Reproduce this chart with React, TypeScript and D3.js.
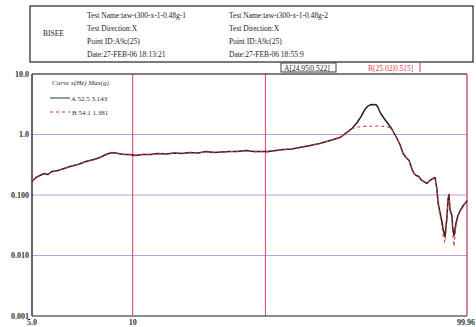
import React from 'react';
import * as d3 from 'd3';

// frequency axis (Hz) and the two response curves (g)
const freqs = [5.0, 5.14, 5.28, 5.43, 5.58, 5.74, 5.98, 6.23, 6.5, 6.86, 7.25, 7.66, 7.98, 8.32, 8.67, 9.04, 9.43, 9.82, 10.2, 10.7, 11.3, 11.9, 12.6, 13.3, 14.1, 14.8, 15.7, 16.6, 17.5, 18.5, 19.5, 20.6, 21.8, 23.0, 24.4, 25.4, 26.8, 28.3, 29.9, 31.6, 33.9, 36.3, 38.9, 41.7, 43.7, 45.3, 46.9, 48.2, 49.5, 50.5, 51.5, 52.5, 53.5, 54.1, 54.9, 56.5, 58.0, 59.7, 61.3, 63.0, 64.4, 65.7, 67.1, 68.5, 69.4, 70.4, 71.8, 72.8, 74.3, 75.8, 77.4, 79.1, 80.2, 81.3, 81.9, 83.0, 84.2, 84.8, 85.9, 87.1, 87.7, 88.3, 88.9, 90.1, 90.7, 91.4, 92.6, 93.9, 95.8, 97.9, 99.2, 99.96];

const ampA = [0.167, 0.195, 0.21, 0.227, 0.218, 0.245, 0.254, 0.274, 0.296, 0.319, 0.358, 0.386, 0.417, 0.467, 0.504, 0.485, 0.467, 0.467, 0.45, 0.467, 0.467, 0.485, 0.476, 0.495, 0.485, 0.504, 0.495, 0.524, 0.504, 0.514, 0.524, 0.524, 0.544, 0.524, 0.524, 0.522, 0.544, 0.565, 0.576, 0.61, 0.658, 0.71, 0.796, 0.892, 1.08, 1.26, 1.58, 1.98, 2.6, 2.95, 3.1, 3.143, 3.1, 2.85, 2.35, 1.84, 1.52, 1.21, 0.927, 0.684, 0.485, 0.417, 0.372, 0.264, 0.227, 0.21, 0.202, 0.18, 0.167, 0.155, 0.174, 0.187, 0.195, 0.123, 0.0752, 0.0514, 0.0351, 0.0269, 0.0206, 0.0441, 0.0843, 0.102, 0.0576, 0.0458, 0.0269, 0.0214, 0.0338, 0.0458, 0.0576, 0.0697, 0.0752, 0.081];

const ampB = [0.172, 0.19, 0.214, 0.222, 0.224, 0.24, 0.258, 0.27, 0.3, 0.322, 0.352, 0.39, 0.42, 0.46, 0.498, 0.49, 0.47, 0.462, 0.455, 0.47, 0.462, 0.48, 0.482, 0.49, 0.49, 0.498, 0.5, 0.515, 0.51, 0.51, 0.52, 0.53, 0.535, 0.52, 0.518, 0.515, 0.54, 0.56, 0.58, 0.605, 0.65, 0.715, 0.79, 0.885, 1.06, 1.24, 1.33, 1.35, 1.36, 1.37, 1.365, 1.372, 1.378, 1.381, 1.37, 1.36, 1.34, 1.19, 0.915, 0.69, 0.478, 0.42, 0.365, 0.27, 0.225, 0.212, 0.198, 0.182, 0.165, 0.158, 0.17, 0.19, 0.192, 0.118, 0.07, 0.046, 0.03, 0.021, 0.0164, 0.04, 0.08, 0.098, 0.055, 0.042, 0.022, 0.0141, 0.03, 0.044, 0.056, 0.068, 0.074, 0.079];

const yTicks = [10, 1, 0.1, 0.01, 0.001];
const yTickLabels = ['10.0', '1.0', '0.100', '0.010', '0.001'];
const xTicks = [5, 10, 99.96];
const xTickLabels = ['5.0', '10', '99.96'];
const cursorFreqs = [10, 24.95];

const testA = ['Test Name:taw-t300-x-1-0.48g-1', 'Test Direction:X', 'Point ID:A9c(25)', 'Date:27-FEB-06 18:13:21'];
const testB = ['Test Name:taw-t300-x-1-0.48g-2', 'Test Direction:X', 'Point ID:A9c(25)', 'Date:27-FEB-06 18:55:9'];

const App = () => {
  const W = 476, H = 327;
  const margin = { top: 74, right: 9, bottom: 11, left: 32 };

  const x = d3.scaleLog().domain([5, 99.96]).range([margin.left, W - margin.right]);
  const y = d3.scaleLog().domain([0.001, 10]).range([H - margin.bottom, margin.top]);

  const lineA = d3.line<number>().x((d, i) => x(freqs[i])).y(d => y(d))(ampA) || '';
  const lineB = d3.line<number>().x((d, i) => x(freqs[i])).y(d => y(d))(ampB) || '';

  const font = '"Liberation Serif", "Times New Roman", serif';
  const x0 = x.range()[0], x1 = x.range()[1];
  const y0 = y.range()[0], y1 = y.range()[1];

  return (
    <svg width={W} height={H} style={{ position: 'absolute', left: 0, top: 0, background: '#fff' }} fontFamily={font}>
      {/* header box */}
      <rect x={30} y={6} width={443} height={56} fill="none" stroke="#333" strokeWidth={1.3} />
      <text x={43} y={36} fontSize={7.5} fill="#222">BISEE</text>
      {testA.map((t, i) => (
        <text key={'a' + i} x={87} y={17.5 + i * 13.3} fontSize={7.5} fill="#222">{t}</text>
      ))}
      {testB.map((t, i) => (
        <text key={'b' + i} x={229} y={17.5 + i * 13.3} fontSize={7.5} fill="#222">{t}</text>
      ))}

      {/* cursor readouts */}
      <rect x={281} y={63} width={55} height={9} fill="none" stroke="#444" strokeWidth={1} />
      <text x={284} y={70.5} fontSize={7.5} fill="#222">A[24.95|0.522]</text>
      <text x={368} y={70.5} fontSize={7.5} fill="#e8304a">B[25.02|0.515]</text>
      <line x1={420} x2={420} y1={63} y2={72} stroke="#e8304a" strokeWidth={1} />

      {/* gridlines */}
      {yTicks.slice(1, 4).map(t => (
        <line key={t} x1={x0} x2={x1} y1={y(t)} y2={y(t)} stroke="#b9a0dc" strokeWidth={1} />
      ))}
      {cursorFreqs.map(f => (
        <line key={f} x1={x(f)} x2={x(f)} y1={y1} y2={y0} stroke="#e8487a" strokeWidth={1.1} />
      ))}

      {/* plot frame */}
      <line x1={x0} x2={x1} y1={y1} y2={y1} stroke="#555" strokeWidth={1.3} />
      <line x1={x0} x2={x1} y1={y0} y2={y0} stroke="#6a6080" strokeWidth={1.5} />
      <line x1={x0} x2={x0} y1={y1} y2={y0} stroke="#4a3848" strokeWidth={1.6} />
      <line x1={x1} x2={x1} y1={y1} y2={y0} stroke="#c0407a" strokeWidth={1.3} />

      {/* axis labels */}
      {yTicks.map((t, i) => (
        <text key={t} x={29} y={y(t) + 2.5} fontSize={8} fontWeight="bold" textAnchor="end" fill="#333">{yTickLabels[i]}</text>
      ))}
      {xTicks.map((t, i) => (
        <text key={t} x={i === 2 ? W - 1 : x(t)} y={H - 2} fontSize={8} fontWeight="bold" textAnchor={i === 2 ? 'end' : 'middle'} fill="#333">{xTickLabels[i]}</text>
      ))}

      {/* curves */}
      <path d={lineA} fill="none" stroke="#222" strokeWidth={1.5} strokeLinejoin="round" />
      <path d={lineB} fill="none" stroke="#e8303a" strokeWidth={1.1} strokeDasharray="3,3" />

      {/* legend */}
      <text x={52} y={85} fontSize={7} fill="#333" fontStyle="italic">Curve x(Hz) Max(g)</text>
      <line x1={50} x2={70} y1={98} y2={98} stroke="#333" strokeWidth={1} />
      <text x={71} y={100.5} fontSize={7} fill="#333">A 52.5 3.143</text>
      <line x1={50} x2={70} y1={112} y2={112} stroke="#e8303a" strokeWidth={1} strokeDasharray="3,3" />
      <text x={72} y={114.5} fontSize={7} fill="#333">B 54.1 1.381</text>
    </svg>
  );
};

export default App;
